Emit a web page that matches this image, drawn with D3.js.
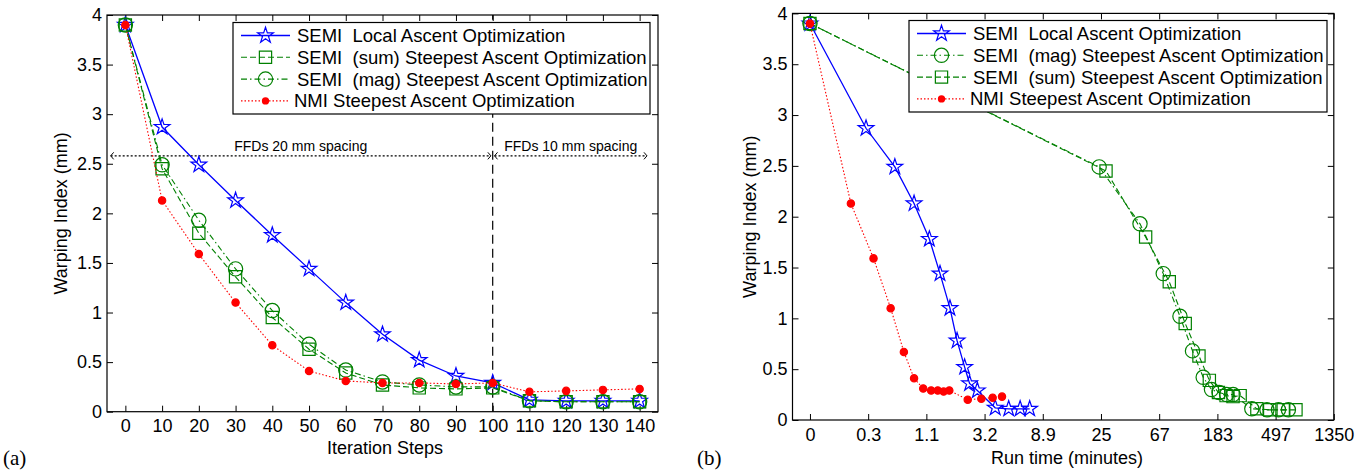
<!DOCTYPE html>
<html>
<head>
<meta charset="utf-8">
<script src="https://cdnjs.cloudflare.com/ajax/libs/d3/7.8.5/d3.min.js"></script>
<style>
  body { margin: 0; background: #fff; }
  text { font-family: "Liberation Sans", Arial, Helvetica, sans-serif; fill: #000; }
  .serif { font-family: "Liberation Serif", "Times New Roman", serif; }
</style>
</head>
<body>
<div id="chart"></div>
<script>
// iteration steps (panel a)
var steps = [0, 10, 20, 30, 40, 50, 60, 70, 80, 90, 100, 110, 120, 130, 140];
var stepTicks = [0, 10, 20, 30, 40, 50, 60, 70, 80, 90, 100, 110, 120, 130, 140];

// warping index (mm), same for both panels
var wiLocal = [3.90, 2.87, 2.49, 2.13, 1.78, 1.44, 1.10, 0.78, 0.52, 0.36, 0.29, 0.12, 0.11, 0.11, 0.11];
var wiSum   = [3.90, 2.45, 1.80, 1.36, 0.95, 0.63, 0.39, 0.27, 0.24, 0.23, 0.24, 0.11, 0.10, 0.10, 0.10];
var wiMag   = [3.90, 2.49, 1.93, 1.44, 1.02, 0.68, 0.42, 0.30, 0.27, 0.25, 0.25, 0.11, 0.10, 0.10, 0.10];
var wiNmi   = [3.90, 2.13, 1.59, 1.10, 0.67, 0.41, 0.31, 0.29, 0.29, 0.28, 0.29, 0.20, 0.21, 0.22, 0.23];

// run time in minutes (panel b)
var timeLocal = [0, 0.27, 0.55, 0.83, 1.13, 1.39, 1.68, 1.92, 2.21, 2.42, 2.79, 3.85, 4.9, 6.0, 7.1];
var timeMag   = [0, 23.8, 48.2, 71.9, 95.9, 119, 143, 165, 188, 214, 239, 330, 428, 522, 619];
var timeSum   = [0, 26.8, 53.1, 79.8, 105, 133, 159, 186, 212, 239, 270, 360, 449, 566, 705];
var timeNmi   = [0, 0.17, 0.33, 0.50, 0.67, 0.83, 1.00, 1.17, 1.33, 1.49, 1.66, 2.34, 3.00, 3.68, 4.35];

var runTickLabels = ['0', '0.3', '1.1', '3.2', '8.9', '25', '67', '183', '497', '1350'];
var yTicks = [0, 0.5, 1, 1.5, 2, 2.5, 3, 3.5, 4];

var nameLocal = 'SEMI  Local Ascent Optimization';
var nameSum = 'SEMI  (sum) Steepest Ascent Optimization';
var nameMag = 'SEMI  (mag) Steepest Ascent Optimization';
var nameNmi = 'NMI Steepest Ascent Optimization';

// FFD spacing annotation (panel a)
var ffdSwitch = 100;
var ffdLevel = 2.58;
var ffdLabels = ['FFDs 20 mm spacing', 'FFDs 10 mm spacing'];

var GREEN = '#008000';
var styles = {
  local: {color: '#0000ff', width: 1.3, dash: null, symbol: d3.symbolStar, size: 76, fill: 'none'},
  sum:   {color: GREEN, width: 1.1, dash: '6,3', symbol: d3.symbolSquare, size: 150, fill: 'none'},
  mag:   {color: GREEN, width: 1.1, dash: '6,3,1.5,3', symbol: d3.symbolCircle, size: 160, fill: 'none'},
  nmi:   {color: '#ff0000', width: 1.1, dash: '1.5,2', symbol: d3.symbolCircle, size: 42, fill: '#ff0000'}
};

function zip(xs, ys) {
  return xs.map(function(x, i) { return [x, ys[i]]; });
}

var svg = d3.select('#chart').append('svg')
  .attr('width', 1367)
  .attr('height', 470);

function drawPanel(p) {
  var g = svg.append('g');
  var x = p.x, y = p.y;
  var x0 = x.range()[0], x1 = x.range()[1];
  var y0 = y.range()[0], y1 = y.range()[1];

  // axes, ticks pointing inward
  g.append('g').attr('transform', 'translate(0,' + y0 + ')')
    .call(d3.axisBottom(x).tickValues(p.xTicks).tickFormat(p.xFormat)
      .tickSizeInner(-6).tickSizeOuter(0).tickPadding(8))
    .call(function(a) {
      a.select('.domain').remove();
      a.selectAll('text').style('font-size', '18px');
    });
  g.append('g').attr('transform', 'translate(0,' + y1 + ')')
    .call(d3.axisTop(x).tickValues(p.xTicks).tickFormat('').tickSizeInner(-6).tickSizeOuter(0))
    .call(function(a) { a.select('.domain').remove(); });
  g.append('g').attr('transform', 'translate(' + x0 + ',0)')
    .call(d3.axisLeft(y).tickValues(yTicks).tickFormat(d3.format('~g'))
      .tickSizeInner(-6).tickSizeOuter(0).tickPadding(5))
    .call(function(a) {
      a.select('.domain').remove();
      a.selectAll('text').style('font-size', '18px');
    });
  g.append('g').attr('transform', 'translate(' + x1 + ',0)')
    .call(d3.axisRight(y).tickValues(yTicks).tickFormat('').tickSizeInner(-6).tickSizeOuter(0))
    .call(function(a) { a.select('.domain').remove(); });
  g.selectAll('.tick line').attr('stroke', '#000');
  g.selectAll('.tick text').attr('fill', '#000');

  if (p.extra) p.extra(g, x, y);

  var line = d3.line()
    .x(function(d) { return x(d[0]); })
    .y(function(d) { return y(d[1]); });

  p.series.forEach(function(s) {
    var st = styles[s.key];
    var pts = zip(s.xs, s.ys);
    g.append('path')
      .attr('d', line(pts))
      .attr('fill', 'none')
      .attr('stroke', st.color)
      .attr('stroke-width', st.width)
      .attr('stroke-dasharray', st.dash);
    g.selectAll(null).data(pts).enter().append('path')
      .attr('transform', function(d) { return 'translate(' + x(d[0]) + ',' + y(d[1]) + ')'; })
      .attr('d', d3.symbol().type(st.symbol).size(st.size))
      .attr('fill', st.fill)
      .attr('stroke', st.color)
      .attr('stroke-width', st.key === 'nmi' ? 0 : 1.2);
  });

  // frame
  g.append('rect')
    .attr('x', x0).attr('y', y1)
    .attr('width', x1 - x0).attr('height', y0 - y1)
    .attr('fill', 'none').attr('stroke', '#000').attr('stroke-width', 1.2);

  // legend
  var L = p.legend;
  var lg = g.append('g');
  lg.append('rect')
    .attr('x', L.x).attr('y', L.y).attr('width', L.w).attr('height', L.h)
    .attr('fill', '#fff').attr('stroke', '#000').attr('stroke-width', 1.2);
  L.items.forEach(function(it, i) {
    var st = styles[it.key];
    var cy = L.y + 13 + i * 21.8;
    lg.append('line')
      .attr('x1', L.x + 8).attr('x2', L.x + 57)
      .attr('y1', cy).attr('y2', cy)
      .attr('stroke', st.color).attr('stroke-width', st.width)
      .attr('stroke-dasharray', st.dash);
    lg.append('path')
      .attr('transform', 'translate(' + (L.x + 32.5) + ',' + cy + ')')
      .attr('d', d3.symbol().type(st.symbol).size(st.size))
      .attr('fill', st.fill).attr('stroke', st.color)
      .attr('stroke-width', it.key === 'nmi' ? 0 : 1.2);
    lg.append('text')
      .attr('x', L.x + (it.key === 'nmi' ? 61 : 64)).attr('y', cy)
      .attr('dy', '0.35em')
      .style('font-size', '18.5px')
      .style('white-space', 'pre')
      .attr('xml:space', 'preserve')
      .text(it.name);
  });

  // axis titles
  g.append('text')
    .attr('x', p.xTitleX).attr('y', p.xTitleY)
    .attr('text-anchor', 'middle').attr('dy', '0.35em')
    .style('font-size', '18px')
    .text(p.xTitle);
  g.append('text')
    .attr('transform', 'translate(' + p.yTitleX + ',' + ((y0 + y1) / 2) + ') rotate(-90)')
    .attr('text-anchor', 'middle').attr('dy', '0.35em')
    .style('font-size', '18px')
    .text('Warping Index (mm)');
  g.append('text')
    .attr('class', 'serif')
    .attr('x', p.tagX).attr('y', 458)
    .attr('dy', '0.35em')
    .style('font-size', '21px')
    .text(p.tag);
}

// panel (a)
var xA = d3.scaleLinear().domain([-5, 145]).range([107, 658]);
var yA = d3.scaleLinear().domain([0, 4]).range([411.7, 15]);

function arrowHead(g, px, py, dir) {
  g.append('path')
    .attr('d', 'M' + (px - dir * 3) + ',' + (py - 3.5) + 'L' + px + ',' + py + 'L' + (px - dir * 3) + ',' + (py + 3.5))
    .attr('fill', 'none').attr('stroke', '#000').attr('stroke-width', 1);
}

drawPanel({
  x: xA, y: yA,
  xTicks: stepTicks, xFormat: d3.format('d'),
  xTitle: 'Iteration Steps', xTitleX: 385, xTitleY: 448,
  yTitleX: 61, tag: '(a)', tagX: 3,
  series: [
    {key: 'local', xs: steps, ys: wiLocal},
    {key: 'sum', xs: steps, ys: wiSum},
    {key: 'mag', xs: steps, ys: wiMag},
    {key: 'nmi', xs: steps, ys: wiNmi}
  ],
  legend: {x: 233, y: 22.5, w: 417, h: 91.5, items: [
    {key: 'local', name: nameLocal},
    {key: 'sum', name: nameSum},
    {key: 'mag', name: nameMag},
    {key: 'nmi', name: nameNmi}
  ]},
  extra: function(g, x, y) {
    var yy = y(ffdLevel);
    g.append('line')
      .attr('x1', x(ffdSwitch)).attr('x2', x(ffdSwitch))
      .attr('y1', y(0)).attr('y2', y(4))
      .attr('stroke', '#000').attr('stroke-width', 1.2)
      .attr('stroke-dasharray', '9,5');
    var segs = [[x.domain()[0] + 1, ffdSwitch - 0.5], [ffdSwitch + 0.5, 142]];
    segs.forEach(function(s, i) {
      g.append('line')
        .attr('x1', x(s[0])).attr('x2', x(s[1]))
        .attr('y1', yy).attr('y2', yy)
        .attr('stroke', '#000').attr('stroke-width', 1.4)
        .attr('stroke-dasharray', '2,2');
      arrowHead(g, x(s[0]), yy, -1);
      arrowHead(g, x(s[1]), yy, 1);
      g.append('text')
        .attr('x', (x(s[0]) + x(s[1])) / 2)
        .attr('y', yy - 4.5)
        .attr('text-anchor', 'middle')
        .style('font-size', '14px')
        .text(ffdLabels[i]);
    });
  }
});

// panel (b): run time axis, ticks equally spaced in log(1 + 6t)
var runTicks = runTickLabels.map(function(s, k) { return (Math.exp(k) - 1) / 6; });
var xB = d3.scaleSymlog().constant(1 / 6)
  .domain([-(Math.exp(0.3) - 1) / 6, (Math.exp(9) - 1) / 6])
  .range([792.5, 1333.8]);
var yB = d3.scaleLinear().domain([0, 4]).range([420, 13.4]);

drawPanel({
  x: xB, y: yB,
  xTicks: runTicks, xFormat: function(d, i) { return runTickLabels[i]; },
  xTitle: 'Run time (minutes)', xTitleX: 1067, xTitleY: 458,
  yTitleX: 750, tag: '(b)', tagX: 697,
  series: [
    {key: 'local', xs: timeLocal, ys: wiLocal},
    {key: 'mag', xs: timeMag, ys: wiMag},
    {key: 'sum', xs: timeSum, ys: wiSum},
    {key: 'nmi', xs: timeNmi, ys: wiNmi}
  ],
  legend: {x: 909, y: 20.5, w: 418, h: 91.5, items: [
    {key: 'local', name: nameLocal},
    {key: 'mag', name: nameMag},
    {key: 'sum', name: nameSum},
    {key: 'nmi', name: nameNmi}
  ]}
});
</script>
</body>
</html>
